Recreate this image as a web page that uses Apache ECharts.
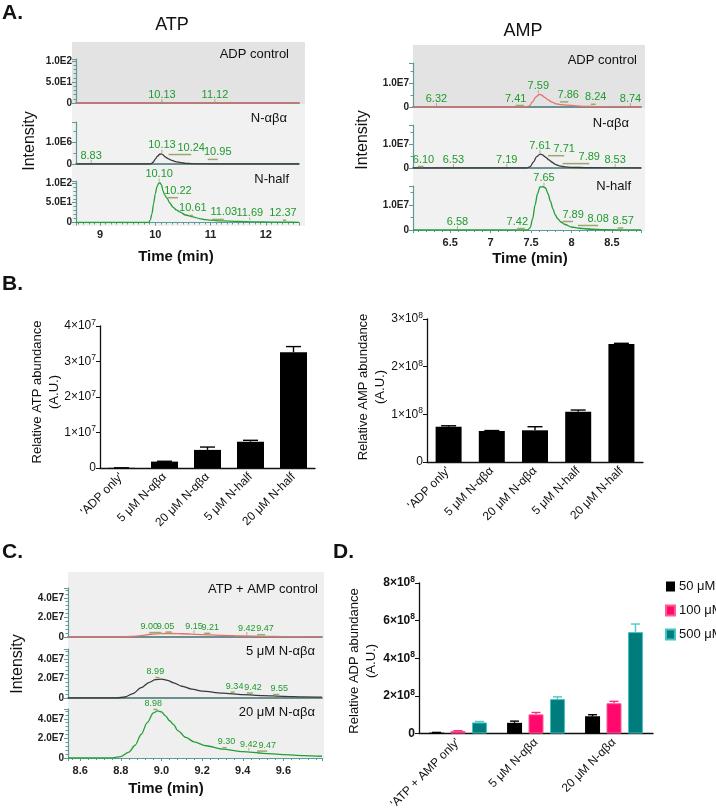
<!DOCTYPE html>
<html><head><meta charset="utf-8">
<script src="https://cdn.jsdelivr.net/npm/echarts@6/dist/echarts.min.js"></script>
<style>html,body{margin:0;padding:0;background:#fff}#c{width:716px;height:812px}</style>
</head><body><div id="c"></div>
<script>
// ---------------- DATA ----------------
// Panel A – ATP chromatograms  [time (min), intensity]
const atpCtrlTrace = [[8.57,0],[10.08,0],[10.12,2],[10.15,1],[10.18,0],[11.09,0],[11.12,1.5],[11.15,0],[12.6,0]];
const atpAbaTrace = [[8.57,0],[9.92,0],[9.96,8e4],[10.0,2.2e5],[10.04,3.5e5],[10.08,4.4e5],[10.11,4.6e5],[10.14,4.1e5],[10.18,3.2e5],[10.23,2.4e5],[10.3,1.6e5],[10.38,1.0e5],[10.46,6e4],[10.55,3e4],[10.65,1.5e4],[10.8,5e3],[11.0,0],[12.6,0]];
const atpHalfTrace = [[8.57,0],[9.88,0],[9.91,6],[9.94,22],[9.97,48],[10.0,72],[10.03,90],[10.06,99],[10.08,101],[10.11,96],[10.14,80],[10.17,70],[10.21,62],[10.26,50],[10.32,39],[10.38,32],[10.45,26],[10.55,19],[10.68,14],[10.8,10],[10.9,7.5],[11.0,6],[11.2,4],[11.5,2.5],[11.8,1.6],[12.1,1],[12.4,0.7],[12.6,0.5]];
// peak annotations [retention time, label position time, intensity]
const atpCtrlPeaks = [[10.13,10.12,0],[11.12,11.08,0]];
const atpAbaPeaks = [[8.83,8.84,0],[10.13,10.12,4.6e5],[10.24,10.65,3.6e5],[10.95,11.13,1.4e5]];
const atpHalfPeaks = [[10.10,10.07,101],[10.22,10.41,59],[10.61,10.68,14],[11.03,11.24,4],[11.69,11.71,3],[12.37,12.31,2]];

// Panel A – AMP chromatograms
const ampCtrlTrace = [[6.04,0],[7.44,0],[7.48,5e5],[7.52,2.2e6],[7.56,4.2e6],[7.6,5.2e6],[7.63,5.0e6],[7.67,4.0e6],[7.71,3.0e6],[7.76,2.0e6],[7.81,1.3e6],[7.86,1.0e6],[7.95,8e5],[8.05,5e5],[8.15,3e5],[8.3,1e5],[8.86,0]];
const ampAbaTrace = [[6.04,0],[7.45,0],[7.49,6e5],[7.53,2.5e6],[7.57,4.7e6],[7.61,5.8e6],[7.64,5.5e6],[7.68,4.5e6],[7.72,3.4e6],[7.76,2.4e6],[7.8,1.5e6],[7.85,9e5],[7.92,5e5],[8.0,3e5],[8.2,1e5],[8.86,0]];
const ampHalfTrace = [[6.04,0],[7.46,0],[7.49,1e6],[7.52,4.5e6],[7.55,1.0e7],[7.58,1.45e7],[7.61,1.72e7],[7.65,1.73e7],[7.68,1.68e7],[7.71,1.45e7],[7.74,1.15e7],[7.77,8.5e6],[7.8,6e6],[7.83,4.5e6],[7.87,3.2e6],[7.92,2.2e6],[8.0,1.2e6],[8.1,7e5],[8.25,3e5],[8.4,1e5],[8.86,0]];
const ampCtrlPeaks = [[6.32,6.33,0],[7.41,7.31,0],[7.59,7.59,5.3e6],[7.86,7.96,1.5e6],[8.24,8.30,5e5],[8.74,8.73,0]];
const ampAbaPeaks = [[6.10,6.17,0],[6.53,6.54,0],[7.19,7.20,0],[7.61,7.61,5.8e6],[7.71,7.91,4.5e6],[7.89,8.22,1.2e6],[8.53,8.54,0]];
const ampHalfPeaks = [[6.58,6.59,0],[7.42,7.33,0],[7.65,7.66,1.73e7],[7.89,8.02,2.8e6],[8.08,8.33,1.2e6],[8.57,8.64,2e5]];

// Panel B – relative abundances
const bCategories = ["'ADP only'", '5 μM N-αβα', '20 μM N-αβα', '5 μM N-half', '20 μM N-half'];
const atpMeans = [5e4, 1.8e6, 5.1e6, 7.4e6, 3.26e7];
const atpErrs  = [0, 1e5, 8e5, 4e5, 1.6e6];
const ampMeans = [7.4e7, 6.5e7, 6.65e7, 1.055e8, 2.475e8];
const ampErrs  = [2e6, 1e6, 7.5e6, 3.5e6, 1.5e6];

// Panel C – ADP chromatograms
const cCtrlTrace = [[8.54,0],[8.8,0],[8.85,5e5],[8.9,1.5e6],[8.95,2.8e6],[9.0,3.5e6],[9.05,3.6e6],[9.1,3.3e6],[9.2,2.5e6],[9.3,1.7e6],[9.4,1.0e6],[9.5,6e5],[9.6,4e5],[9.79,2e5]];
const c5Trace = [[8.54,0],[8.78,0],[8.82,1e6],[8.86,4.5e6],[8.9,1.05e7],[8.94,1.6e7],[8.97,1.88e7],[9.0,1.93e7],[9.03,1.8e7],[9.06,1.55e7],[9.1,1.2e7],[9.15,9e6],[9.2,7e6],[9.3,5e6],[9.4,3.5e6],[9.5,2.5e6],[9.6,1.7e6],[9.7,1.2e6],[9.79,8e5]];
const c20Trace = [[8.54,0],[8.75,0],[8.8,1.5e6],[8.84,6e6],[8.87,1.3e7],[8.9,2.4e7],[8.93,3.6e7],[8.96,4.6e7],[8.98,4.8e7],[9.0,4.7e7],[9.02,4.3e7],[9.04,3.8e7],[9.06,3.4e7],[9.08,2.8e7],[9.12,2.1e7],[9.16,1.65e7],[9.22,1.25e7],[9.3,9e6],[9.4,6.5e6],[9.5,4.8e6],[9.6,3.5e6],[9.7,2.5e6],[9.79,1.8e6]];
const cCtrlPeaks = [[9.00,8.94,3.0e6],[9.05,9.02,3.5e6],[9.15,9.16,2.8e6],[9.21,9.24,2.2e6],[9.42,9.42,1.0e6],[9.47,9.51,8e5]];
const c5Peaks = [[8.99,8.97,1.93e7],[9.34,9.36,4.5e6],[9.42,9.45,3.5e6],[9.55,9.58,2e6]];
const c20Peaks = [[8.98,8.96,4.8e7],[9.30,9.32,9e6],[9.42,9.43,6.5e6],[9.47,9.52,5.5e6]];

// Panel D – relative ADP abundance
const dCategories = ["'ATP + AMP only'", '5 μM N-αβα', '20 μM N-αβα'];
const dSeriesNames = ['50 μM', '100 μM', '500 μM'];
const d50Means = [5e6, 5.7e7, 9.2e7];   const d50Errs = [1e6, 9e6, 8e6];
const d100Means = [1.4e7, 1.02e8, 1.61e8]; const d100Errs = [1e6, 1e7, 1e7];
const d500Means = [5.9e7, 1.83e8, 5.39e8]; const d500Errs = [5e6, 1.2e7, 4.3e7];

// tick values / labels
const atpTimeTicks = [9, 10, 11, 12];         const atpTimeLabels = ['9', '10', '11', '12'];
const ampTimeTicks = [6.5, 7, 7.5, 8, 8.5];   const ampTimeLabels = ['6.5', '7', '7.5', '8', '8.5'];
const cTimeTicks = [8.6, 8.8, 9.0, 9.2, 9.4, 9.6]; const cTimeLabels = ['8.6', '8.8', '9.0', '9.2', '9.4', '9.6'];
const atpIntTicks = [0, 50, 100];   const atpIntLabels = ['0', '5.0E1', '1.0E2'];
const atpMidTicks = [0, 1e6];       const atpMidLabels = ['0', '1.0E6'];
const ampIntTicks = [0, 1e7];       const ampIntLabels = ['0', '1.0E7'];
const cIntTicks = [0, 2e7, 4e7];    const cIntLabels = ['0', '2.0E7', '4.0E7'];
const bLeftTicks = [0, 1e7, 2e7, 3e7, 4e7]; const bLeftLabels = ['0', '1×10^7', '2×10^7', '3×10^7', '4×10^7'];
const bRightTicks = [0, 1e8, 2e8, 3e8];     const bRightLabels = ['0', '1×10^8', '2×10^8', '3×10^8'];
const dTicks = [0, 2e8, 4e8, 6e8, 8e8];     const dLabels = ['0', '2×10^8', '4×10^8', '6×10^8', '8×10^8'];

// ---------------- CHART ----------------
const FONT = '"Liberation Sans", Arial, Helvetica, sans-serif';
const AXC = '#5f9a9a';
const RED = '#e5706c', BLK = '#3a3a3a', GRN = '#22a034', LBL = '#1f9a2c';

function tickFmt(vals, labels, rich) {
  return function (v) {
    for (let i = 0; i < vals.length; i++) {
      if (Math.abs(v - vals[i]) <= 1e-6 * Math.max(1, Math.abs(vals[i]))) {
        const l = labels[i];
        return rich ? l.replace(/\^(\d+)/, '{s|$1}') : l;
      }
    }
    return '';
  };
}

const grids = [
  {left: 76, top: 59, width: 223, height: 44},
  {left: 76, top: 122, width: 223, height: 42},
  {left: 76, top: 181, width: 223, height: 41.5},
  {left: 413, top: 63, width: 228, height: 44},
  {left: 413, top: 125, width: 228, height: 43},
  {left: 413, top: 186, width: 228, height: 44},
  {left: 100, top: 326, width: 215, height: 142},
  {left: 427, top: 319, width: 216, height: 143},
  {left: 68, top: 588, width: 254, height: 49},
  {left: 68, top: 649, width: 254, height: 49},
  {left: 68, top: 709, width: 254, height: 49},
  {left: 419, top: 583, width: 234, height: 154}
];

function chromX(gi, min, max, step, vals, labels, show, minorSplit) {
  return {
    type: 'value', gridIndex: gi, min: min, max: max, minInterval: step, maxInterval: step,
    axisLine: {show: true, onZero: false, lineStyle: {color: show ? AXC : '#6d8f8f', width: show ? 1.2 : 1.8}},
    axisTick: {show: show, length: 3, lineStyle: {color: AXC}},
    minorTick: {show: show, splitNumber: minorSplit, length: 2, lineStyle: {color: AXC}},
    axisLabel: {show: show, formatter: tickFmt(vals, labels), fontWeight: 'bold', fontSize: 11, color: '#222', margin: 7, fontFamily: FONT},
    splitLine: {show: false}, minorSplitLine: {show: false}
  };
}
function chromY(gi, max, step, vals, labels, minorSplit) {
  return {
    type: 'value', gridIndex: gi, min: 0, max: max, minInterval: step, maxInterval: step,
    axisLine: {show: true, lineStyle: {color: AXC, width: 1.2}},
    axisTick: {show: true, length: 4, lineStyle: {color: AXC}},
    minorTick: {show: true, splitNumber: minorSplit, length: 2.5, lineStyle: {color: AXC}},
    axisLabel: {formatter: tickFmt(vals, labels), fontWeight: 'bold', fontSize: 10, color: '#222', margin: 4, fontFamily: FONT},
    splitLine: {show: false}
  };
}
function catX(gi, cats) {
  return {
    type: 'category', gridIndex: gi, data: cats,
    axisLine: {show: true, lineStyle: {color: '#111', width: 1.3}},
    axisTick: {show: false},
    axisLabel: {rotate: 45, fontSize: 12, color: '#111', margin: 7, fontFamily: FONT, interval: 0}
  };
}
function barY(gi, max, step, vals, labels, bold) {
  return {
    type: 'value', gridIndex: gi, min: 0, max: max, interval: step,
    axisLine: {show: true, lineStyle: {color: '#111', width: 1.3}},
    axisTick: {show: true, length: 4, lineStyle: {color: '#111'}},
    axisLabel: {formatter: tickFmt(vals, labels, true), fontSize: 12, lineHeight: 16, fontWeight: bold ? 'bold' : 'normal',
      color: '#111', margin: 4, fontFamily: FONT,
      rich: {s: {fontSize: 8.5, lineHeight: 9, verticalAlign: 'top', fontWeight: bold ? 'bold' : 'normal', color: '#111', fontFamily: FONT}}},
    splitLine: {show: false}
  };
}

function trace(gi, data, color) {
  return {type: 'line', xAxisIndex: gi, yAxisIndex: gi, data: data, showSymbol: false, symbol: 'none',
    smooth: 0.3, smoothMonotone: 'x', lineStyle: {color: color, width: 1.3}, silent: true, z: 3};
}
function peaks(gi, data, fs) {
  return {
    type: 'custom', xAxisIndex: gi, yAxisIndex: gi, data: data, encode: {x: [0, 1], y: 2}, clip: false, silent: true, z: 5,
    renderItem: function (params, api) {
      const pk = api.value(0), lx = api.value(1), yv = api.value(2);
      const p0 = api.coord([pk, yv]), p1 = api.coord([lx, yv]);
      const ch = [];
      if (Math.abs(p1[0] - p0[0]) > 3) {
        ch.push({type: 'line', shape: {x1: p0[0], y1: p0[1] - 1.5, x2: p1[0], y2: p1[1] - 1.5}, style: {stroke: '#9aa86c', lineWidth: 1.5}});
      } else {
        ch.push({type: 'line', shape: {x1: p1[0], y1: p1[1] - 1, x2: p1[0], y2: p1[1] - 4}, style: {stroke: '#a9b08c', lineWidth: 1}});
      }
      ch.push({type: 'text', x: p1[0], y: p1[1] - 3,
        style: {text: pk.toFixed(2), fill: LBL, font: fs + 'px ' + FONT, align: 'center', verticalAlign: 'bottom', textAlign: 'center', textVerticalAlign: 'bottom'}});
      return {type: 'group', children: ch};
    }
  };
}
function errBars(gi, means, errs, offset, color, cap) {
  return {
    type: 'custom', xAxisIndex: gi, yAxisIndex: gi, data: means.map(function (m, i) { return [i, m, errs[i]]; }),
    encode: {x: 0, y: 1}, z: 4, silent: true,
    renderItem: function (params, api) {
      const i = api.value(0), v = api.value(1), e = api.value(2);
      const p0 = api.coord([i, v]), p1 = api.coord([i, v + e]);
      const x = p0[0] + offset;
      return {type: 'group', children: [
        {type: 'line', shape: {x1: x, y1: p0[1], x2: x, y2: p1[1]}, style: {stroke: color, lineWidth: 1.4}},
        {type: 'line', shape: {x1: x - cap / 2, y1: p1[1], x2: x + cap / 2, y2: p1[1]}, style: {stroke: color, lineWidth: 1.4}}
      ]};
    }
  };
}

function txt(t, x, y, font, align, rot) {
  return {type: 'text', x: x, y: y, rotation: rot || 0, z: 10,
    style: {text: t, font: font + ' ' + FONT, fill: '#111', align: align || 'center', verticalAlign: 'middle',
      textAlign: align || 'center', textVerticalAlign: 'middle', lineHeight: 17}};
}
function bg(x, y, w, h, c) {
  return {type: 'rect', shape: {x: x, y: y, width: w, height: h}, style: {fill: c}, z: -5, silent: true};
}

const DBW = 15, DGAP = 0.43;
const dOff = DBW * (1 + DGAP);

const option = {
  animation: false,
  textStyle: {fontFamily: FONT},
  grid: grids.map(function (g) { return Object.assign({containLabel: false}, g); }),
  xAxis: [
    chromX(0, 8.566, 12.6, 1, atpTimeTicks, atpTimeLabels, false, 10),
    chromX(1, 8.566, 12.6, 1, atpTimeTicks, atpTimeLabels, false, 10),
    chromX(2, 8.566, 12.6, 1, atpTimeTicks, atpTimeLabels, true, 10),
    chromX(3, 6.04, 8.86, 0.5, ampTimeTicks, ampTimeLabels, false, 5),
    chromX(4, 6.04, 8.86, 0.5, ampTimeTicks, ampTimeLabels, false, 5),
    chromX(5, 6.04, 8.86, 0.5, ampTimeTicks, ampTimeLabels, true, 5),
    catX(6, bCategories),
    catX(7, bCategories),
    chromX(8, 8.54, 9.79, 0.2, cTimeTicks, cTimeLabels, false, 5),
    chromX(9, 8.54, 9.79, 0.2, cTimeTicks, cTimeLabels, false, 5),
    chromX(10, 8.54, 9.79, 0.2, cTimeTicks, cTimeLabels, true, 5),
    catX(11, dCategories)
  ],
  yAxis: [
    chromY(0, 105, 50, atpIntTicks, atpIntLabels, 5),
    chromY(1, 1.9e6, 1e6, atpMidTicks, atpMidLabels, 2),
    chromY(2, 105, 50, atpIntTicks, atpIntLabels, 5),
    chromY(3, 1.83e7, 1e7, ampIntTicks, ampIntLabels, 2),
    chromY(4, 1.79e7, 1e7, ampIntTicks, ampIntLabels, 2),
    chromY(5, 1.76e7, 1e7, ampIntTicks, ampIntLabels, 2),
    barY(6, 4e7, 1e7, bLeftTicks, bLeftLabels, false),
    barY(7, 3e8, 1e8, bRightTicks, bRightLabels, false),
    chromY(8, 5e7, 2e7, cIntTicks, cIntLabels, 5),
    chromY(9, 5e7, 2e7, cIntTicks, cIntLabels, 5),
    chromY(10, 5e7, 2e7, cIntTicks, cIntLabels, 5),
    barY(11, 8e8, 2e8, dTicks, dLabels, true)
  ],
  legend: {
    data: dSeriesNames, orient: 'vertical', left: 665, top: 580, padding: 0, itemWidth: 9, itemHeight: 10, itemGap: 11,
    icon: 'rect', textStyle: {fontSize: 13, color: '#111', fontFamily: FONT, padding: [0, 0, 0, -1]}, selectedMode: false
  },
  series: [
    trace(0, atpCtrlTrace, RED), peaks(0, atpCtrlPeaks, 11),
    trace(1, atpAbaTrace, BLK), peaks(1, atpAbaPeaks, 11),
    trace(2, atpHalfTrace, GRN), peaks(2, atpHalfPeaks, 11),
    trace(3, ampCtrlTrace, RED), peaks(3, ampCtrlPeaks, 11),
    trace(4, ampAbaTrace, BLK), peaks(4, ampAbaPeaks, 11),
    trace(5, ampHalfTrace, GRN), peaks(5, ampHalfPeaks, 11),
    {type: 'bar', name: 'ATP', xAxisIndex: 6, yAxisIndex: 6, data: atpMeans, barWidth: 27, itemStyle: {color: '#000'}},
    errBars(6, atpMeans, atpErrs, 0, '#000', 15),
    {type: 'bar', name: 'AMP', xAxisIndex: 7, yAxisIndex: 7, data: ampMeans, barWidth: 26, itemStyle: {color: '#000'}},
    errBars(7, ampMeans, ampErrs, 0, '#000', 15),
    trace(8, cCtrlTrace, RED), peaks(8, cCtrlPeaks, 9),
    trace(9, c5Trace, BLK), peaks(9, c5Peaks, 9),
    trace(10, c20Trace, GRN), peaks(10, c20Peaks, 9),
    {type: 'bar', name: dSeriesNames[0], xAxisIndex: 11, yAxisIndex: 11, data: d50Means, barWidth: DBW, barGap: (DGAP * 100) + '%', itemStyle: {color: '#000'}},
    {type: 'bar', name: dSeriesNames[1], xAxisIndex: 11, yAxisIndex: 11, data: d100Means, barWidth: DBW, barGap: (DGAP * 100) + '%', itemStyle: {color: '#ff0a6c', borderColor: '#ff5a98', borderWidth: 1}},
    {type: 'bar', name: dSeriesNames[2], xAxisIndex: 11, yAxisIndex: 11, data: d500Means, barWidth: DBW, barGap: (DGAP * 100) + '%', itemStyle: {color: '#007c7c', borderColor: '#45c2c2', borderWidth: 1}},
    errBars(11, d50Means, d50Errs, -dOff, '#000', 9),
    errBars(11, d100Means, d100Errs, 0, '#ff2a80', 9),
    errBars(11, d500Means, d500Errs, dOff, '#4cc8c8', 9)
  ],
  graphic: [
    bg(72, 42, 233, 62, '#e3e3e3'), bg(72, 104, 233, 122, '#f1f1f1'),
    bg(413, 45, 232, 63, '#e3e3e3'), bg(413, 108, 232, 123, '#f1f1f1'),
    bg(68, 572, 256, 187, '#efefef'),
    txt('A.', 2, 13, 'bold 21px', 'left'),
    txt('B.', 2, 284, 'bold 21px', 'left'),
    txt('C.', 2, 552, 'bold 21px', 'left'),
    txt('D.', 333, 552, 'bold 21px', 'left'),
    txt('ATP', 172, 25, '18px'),
    txt('AMP', 523, 31, '18px'),
    txt('ADP control', 289, 54, '13px', 'right'),
    txt('N-αβα', 287, 118, '13px', 'right'),
    txt('N-half', 289, 179, '13px', 'right'),
    txt('ADP control', 637, 60, '13px', 'right'),
    txt('N-αβα', 629, 123, '13px', 'right'),
    txt('N-half', 631, 186, '13px', 'right'),
    txt('ATP + AMP control', 318, 589, '13px', 'right'),
    txt('5 μM N-αβα', 315, 651, '13px', 'right'),
    txt('20 μM N-αβα', 315, 712, '13px', 'right'),
    txt('Intensity', 30, 141, '16px', 'center', Math.PI / 2),
    txt('Intensity', 363, 140, '16px', 'center', Math.PI / 2),
    txt('Intensity', 18, 664, '16px', 'center', Math.PI / 2),
    txt('Time (min)', 176, 257, 'bold 15px'),
    txt('Time (min)', 530, 259, 'bold 15px'),
    txt('Time (min)', 166, 789, 'bold 15px'),
    txt('Relative ATP abundance\n(A.U.)', 46, 392, '13px', 'center', Math.PI / 2),
    txt('Relative AMP abundance\n(A.U.)', 372, 387, '13px', 'center', Math.PI / 2),
    txt('Relative ADP abundance\n(A.U.)', 363, 661, '13px', 'center', Math.PI / 2)
  ]
};

const chart = echarts.init(document.getElementById('c'), null, {renderer: 'canvas'});
chart.setOption(option);
</script></body></html>
